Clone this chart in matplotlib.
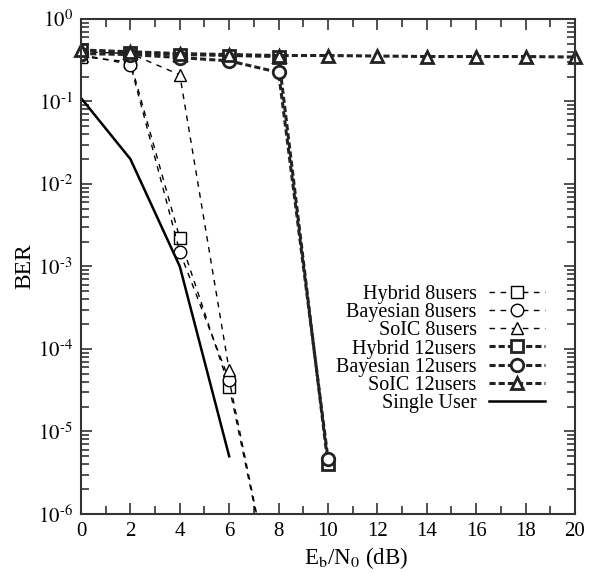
import numpy as np
import matplotlib
matplotlib.use("Agg")
import matplotlib.pyplot as plt
from matplotlib.ticker import FixedLocator, FuncFormatter, NullFormatter

plt.rcParams['font.family'] = ['Liberation Serif', 'DejaVu Serif']
plt.rcParams['mathtext.fontset'] = 'stix'

# data
x8 = [0, 2, 4, 6, 8]
hybrid8 = [0.35, 0.30, 2.2e-3, 3.5e-5, 5e-8]
bayes8 = [0.37, 0.28, 1.5e-3, 4.2e-5, 5e-8]
x8s = [0, 2, 4, 6]
soic8 = [0.40, 0.38, 0.21, 5.5e-5]
x12 = [0, 2, 4, 6, 8, 10]
hybrid12 = [0.42, 0.39, 0.37, 0.36, 0.35, 4.0e-6]
bayes12 = [0.38, 0.37, 0.34, 0.31, 0.225, 4.7e-6]
x12s = [0, 2, 4, 6, 8, 10, 12, 14, 16, 18, 20]
soic12 = [0.42, 0.40, 0.38, 0.37, 0.36, 0.36, 0.355, 0.35, 0.35, 0.35, 0.345]
xsu = [0, 2, 4, 6]
single = [0.11, 0.02, 1.0e-3, 5.0e-6]

fig = plt.figure(figsize=(6.02, 5.73), dpi=100)
ax = fig.add_axes([0.1346, 0.103, 0.8204, 0.864])

thin = dict(color='black', lw=1.0, dashes=(4, 4), mfc='white', mec='black', mew=1.0, ms=9)
thick = dict(color='#222222', lw=2.2, dashes=(2, 1), mfc='white', mec='#222222', mew=2.0, ms=9)

ax.plot(x8, hybrid8, marker='s', label='Hybrid 8users', **thin)
ax.plot(x8, bayes8, marker='o', label='Bayesian 8users', **thin)
ax.plot(x8s, soic8, marker='^', label='SoIC 8users', **thin)
ax.plot(x12, hybrid12, marker='s', label='Hybrid 12users', **thick)
ax.plot(x12, bayes12, marker='o', label='Bayesian 12users', **thick)
ax.plot(x12s, soic12, marker='^', label='SoIC 12users', clip_on=False, **thick)
ax.plot(xsu, single, color='black', lw=1.8, label='Single User')

ax.set_yscale('log')
ax.set_xlim(0, 20)
ax.set_ylim(1e-6, 1)
ax.xaxis.set_major_locator(FixedLocator(np.arange(0, 21, 2)))
ax.xaxis.set_minor_locator(FixedLocator(np.arange(1, 20, 2)))
decades = np.arange(-6, 1)
ax.yaxis.set_major_locator(FixedLocator(10.0 ** decades))
minors = [m * 10.0 ** d for d in decades[:-1] for m in range(2, 10)]
ax.yaxis.set_minor_locator(FixedLocator(minors))
ax.yaxis.set_minor_formatter(NullFormatter())


def yfmt(v, p):
    e = int(round(np.log10(v)))
    if e < 0:
        return r'$10^{\text{-}%d}$' % (-e)
    return r'$10^{%d}$' % e


ax.yaxis.set_major_formatter(FuncFormatter(yfmt))

ax.tick_params(which='both', direction='in', top=True, right=True, labelsize=15, color='#333333')
ax.tick_params(which='major', length=8, width=1.2, pad=6)
ax.tick_params(which='minor', length=6, width=1.2)
for s in ax.spines.values():
    s.set_color('#333333')
    s.set_linewidth(1.5)

ax.set_xlabel(r'E$_\mathrm{b}$/N$_0$ (dB)', fontsize=16.5)
ax.xaxis.set_label_coords(0.557, -0.062)
ax.set_ylabel('BER', fontsize=17, labelpad=2)

leg = ax.legend(loc='lower right', bbox_to_anchor=(0.96, 0.184), markerfirst=False, frameon=False,
                fontsize=14.5, handlelength=2.8, labelspacing=-0.05, handletextpad=0.6, borderpad=0)
for t in leg.get_texts():
    t.set_ha('right')

fig.savefig('out.png', dpi=100)
